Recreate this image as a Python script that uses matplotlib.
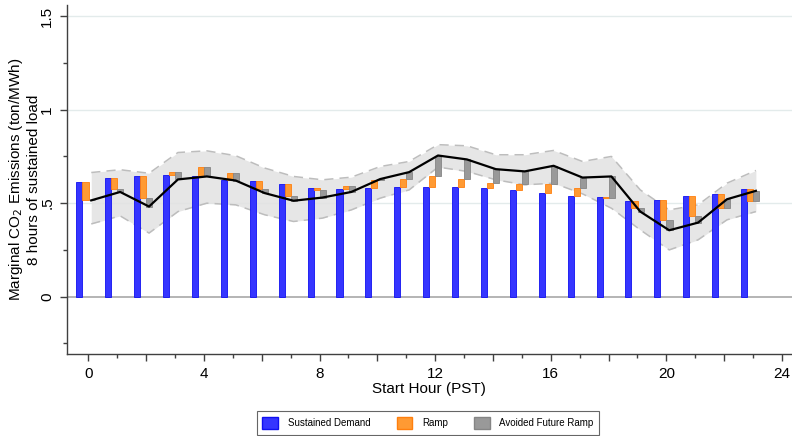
import matplotlib
matplotlib.use("Agg")
import matplotlib.pyplot as plt
import numpy as np
from matplotlib.patches import Patch

plt.rcParams["font.family"] = ["Liberation Sans", "DejaVu Sans"]

# start hour (PST)
hours = list(range(24))

# sustained demand effect (bar from 0)
demand = [0.613, 0.634, 0.643, 0.650, 0.646, 0.625, 0.621, 0.602, 0.580, 0.575,
          0.580, 0.586, 0.586, 0.586, 0.580, 0.571, 0.557, 0.541, 0.532, 0.514,
          0.518, 0.536, 0.550, 0.575]
# ramp effect (stacked on demand)
ramp = [-0.098, -0.057, -0.116, 0.016, 0.050, 0.036, -0.046, -0.061, -0.010, 0.018,
        0.045, 0.043, 0.057, 0.043, 0.027, 0.031, 0.045, 0.039, -0.007, -0.041,
        -0.107, -0.107, -0.077, -0.066]
# avoided future ramp (stacked on demand + ramp)
avoided = [0.000, -0.017, -0.045, -0.039, -0.053, -0.040, -0.021, -0.028, -0.040, -0.033,
           0.004, 0.037, 0.112, 0.105, 0.075, 0.068, 0.098, 0.057, 0.118, -0.018,
           -0.056, -0.033, 0.048, 0.057]
# confidence band around the total
ci_upper = [0.664, 0.679, 0.660, 0.771, 0.780, 0.754, 0.688, 0.643, 0.625, 0.639,
            0.696, 0.723, 0.813, 0.807, 0.759, 0.759, 0.782, 0.723, 0.750, 0.571,
            0.464, 0.491, 0.607, 0.675]
ci_lower = [0.389, 0.432, 0.340, 0.455, 0.500, 0.491, 0.438, 0.402, 0.420, 0.464,
            0.527, 0.571, 0.693, 0.670, 0.625, 0.598, 0.607, 0.550, 0.473, 0.357,
            0.250, 0.304, 0.411, 0.455]

legend_labels = ["Sustained Demand", "Ramp", "Avoided Future Ramp"]

blue = "#3535ff"
blue_edge = "#1010f0"
orange = "#ff9a33"
orange_edge = "#ff7f0e"
grey = "#999999"
grey_edge = "#858585"

h = np.array(hours, dtype=float)
d = np.array(demand)
r = np.array(ramp)
a = np.array(avoided)
total = d + r + a

fig = plt.figure(figsize=(7.92, 4.36), dpi=100)
ax = fig.add_axes([0.0842, 0.188, 0.9158, 0.8005])

# grid lines
for yv in [0.5, 1.0, 1.5]:
    ax.axhline(yv, color="#e3ebeb", lw=1.0, zorder=0)
ax.axhline(0, color="#a8a8a8", lw=1.2, zorder=1)

bw = 0.21
# confidence band
ax.fill_between(h + 0.1, ci_lower, ci_upper, color="#e2e2e2", alpha=0.85,
                lw=0, zorder=1.5)
ax.plot(h + 0.1, ci_upper, color="#bdbdbd", lw=1.1, dashes=(6, 4), zorder=1.6)
ax.plot(h + 0.1, ci_lower, color="#bdbdbd", lw=1.1, dashes=(6, 4), zorder=1.6)

# bars
ax.bar(h - 0.31, d, width=bw, color=blue, edgecolor=blue_edge, lw=0.6, zorder=2)
ax.bar(h - 0.10, r, width=bw, bottom=d, color=orange, edgecolor=orange_edge,
       lw=0.6, zorder=2)
ax.bar(h + 0.11, a, width=bw, bottom=d + r, color=grey, edgecolor=grey_edge,
       lw=0.6, zorder=2)

# total
ax.plot(h + 0.1, total, color="black", lw=1.6, zorder=3)

ax.set_xlim(-0.75, 24.35)
ax.set_ylim(-0.307, 1.56)

ax.set_xticks(np.arange(0, 25, 2))
ax.set_xticklabels([str(v) if v % 4 == 0 else "" for v in range(0, 25, 2)])
ax.set_xticks(np.arange(1, 24, 2), minor=True)
ax.set_yticks([0, 0.5, 1.0, 1.5])
ax.set_yticklabels(["0", ".5", "1", "1.5"], rotation=90, va="center")
ax.set_yticks([-0.25, 0.25, 0.75, 1.25], minor=True)

ax.tick_params(axis="both", which="major", length=5, width=1, color="#404040",
               labelsize=11, pad=4)
ax.tick_params(axis="both", which="minor", length=3, width=1, color="#404040")

for side in ["top", "right"]:
    ax.spines[side].set_visible(False)
for side in ["left", "bottom"]:
    ax.spines[side].set_color("#404040")
    ax.spines[side].set_linewidth(1.0)

ax.set_xlabel("Start Hour (PST)", fontsize=11, labelpad=1)
ax.set_ylabel("Marginal CO$_2$ Emissions (ton/MWh)\n8 hours of sustained load",
              fontsize=11, linespacing=1.15)
ax.yaxis.set_label_coords(-0.036, 0.5)

handles = [
    Patch(facecolor=blue, edgecolor=blue_edge),
    Patch(facecolor=orange, edgecolor=orange_edge),
    Patch(facecolor=grey, edgecolor=grey_edge),
]
leg = fig.legend(handles, legend_labels, loc="upper center", ncol=3,
                 bbox_to_anchor=(428 / 792, 1 - 406 / 436), fontsize=7,
                 frameon=True, fancybox=False, handlelength=1.6,
                 handleheight=1.6, handletextpad=1.0, columnspacing=2.7,
                 borderpad=0.6, edgecolor="#404040")
leg.get_frame().set_linewidth(0.8)

fig.savefig("out.png", dpi=100)
